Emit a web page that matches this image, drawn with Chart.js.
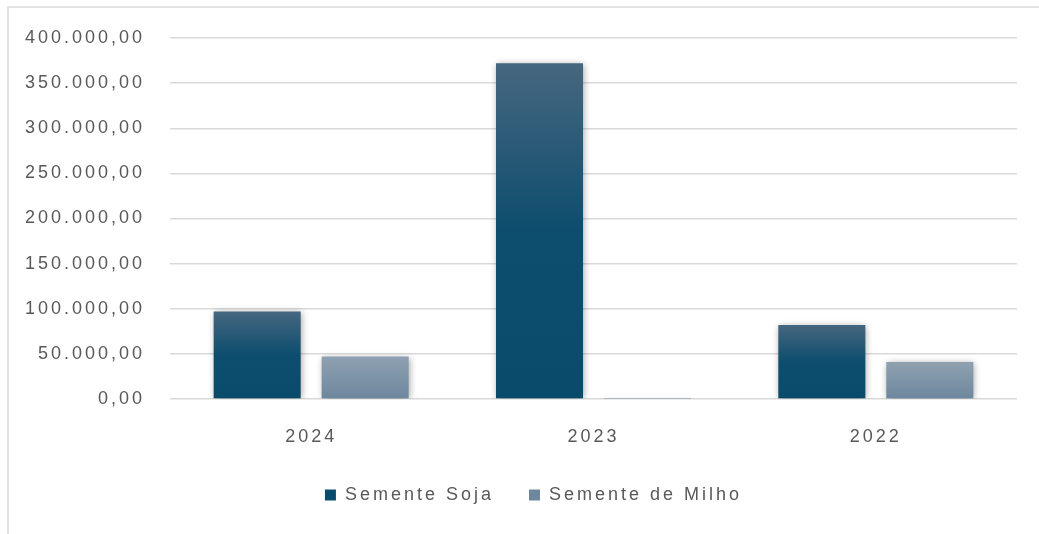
<!DOCTYPE html>
<html lang="pt-BR">
<head>
<meta charset="utf-8">
<title>Semente Soja e Semente de Milho</title>
<script src="https://cdn.jsdelivr.net/npm/chart.js@4.4.1/dist/chart.umd.min.js"></script>
<style>
  html, body { margin: 0; padding: 0; background: #fff; overflow: hidden; }
  body { width: 1039px; height: 534px; position: relative; }
  #frame {
    position: absolute; left: 7px; top: 6px; width: 1100px; height: 600px;
    border-left: 2px solid #e2e2e2; border-top: 2px solid #e2e2e2; box-sizing: border-box;
  }
  #wrap { position: absolute; left: 0; top: 0; width: 1039px; height: 514px; }
</style>
</head>
<body>
<div id="frame"></div>
<div id="wrap"><canvas id="chart"></canvas></div>
<script>
// Anos exibidos no eixo X
const categories = ['2024', '2023', '2022'];
// Valores por ano (R$)
const semSoja = [97000, 372000, 82000];
const semMilho = [47000, 300, 41000];
// Eixo Y
const yMin = 0;
const yMax = 400000;
const yStep = 50000;

const TEXT = '#595959';
const GRID = '#d9d9d9';
const FONT = '"Liberation Sans", Arial, sans-serif';
const SPACING = '3px';
const LEGEND_INSET = 50; // recuo à esquerda da faixa da legenda

// Formato brasileiro: 400.000,00
function fmtBR(v) {
  const [i, d] = Number(v).toFixed(2).split('.');
  return i.replace(/\B(?=(\d{3})+(?!\d))/g, '.') + ',' + d;
}

// Gradiente vertical por barra, do topo até a base
function barGradient(stops, solid) {
  return (c) => {
    if (c.type !== 'data') return solid;
    const chart = c.chart;
    const y = chart.scales.y;
    if (!y || !chart.chartArea) return solid;
    const top = y.getPixelForValue(c.parsed.y);
    const base = y.getPixelForValue(0);
    if (!isFinite(top) || !isFinite(base) || Math.abs(base - top) < 1) return solid;
    const g = chart.ctx.createLinearGradient(0, top, 0, base);
    stops.forEach(([p, col]) => g.addColorStop(p, col));
    return g;
  };
}

// Espaçamento entre letras dos textos do canvas
const spacingPlugin = {
  id: 'spacing',
  beforeLayout(chart) { chart.ctx.letterSpacing = SPACING; },
  beforeDraw(chart) { chart.ctx.letterSpacing = SPACING; }
};

// Centraliza a legenda numa faixa recuada à esquerda
const legendShiftPlugin = {
  id: 'legendShift',
  afterUpdate(chart) {
    const lg = chart.legend;
    if (lg && !lg._shifted) {
      lg.left += LEGEND_INSET;
      lg.width = lg.right - lg.left;
      lg._shifted = true;
      lg.adjustHitBoxes();
    }
  },
  beforeUpdate(chart) { if (chart.legend) chart.legend._shifted = false; }
};

// Sombra suave atrás das barras
const shadowPlugin = {
  id: 'barShadow',
  beforeDatasetsDraw(chart) {
    const c = chart.ctx;
    c.save();
    c.shadowColor = 'rgba(0,0,0,0.38)';
    c.shadowBlur = 7;
    c.shadowOffsetX = 1;
    c.shadowOffsetY = 1;
  },
  afterDatasetsDraw(chart) { chart.ctx.restore(); }
};

new Chart(document.getElementById('chart'), {
  type: 'bar',
  data: {
    labels: categories,
    datasets: [
      {
        label: 'Semente Soja',
        data: semSoja,
        backgroundColor: barGradient([[0, '#46677f'], [0.5, '#0d4d6e'], [1, '#0a4a6a']], '#0e4b6b'),
        borderWidth: 0,
        categoryPercentage: 0.765,
        barPercentage: 0.806
      },
      {
        label: 'Semente de Milho',
        data: semMilho,
        backgroundColor: barGradient([[0, '#8fa1b1'], [1, '#6d879e']], '#7e94a7'),
        borderWidth: 0,
        categoryPercentage: 0.765,
        barPercentage: 0.806
      }
    ]
  },
  options: {
    responsive: true,
    maintainAspectRatio: false,
    animation: false,
    devicePixelRatio: 1,
    layout: { padding: { left: 0, right: 22, top: 38, bottom: 0 } },
    plugins: {
      tooltip: { enabled: false },
      legend: {
        position: 'bottom',
        labels: {
          color: TEXT,
          font: { family: FONT, size: 18 },
          boxWidth: 11,
          boxHeight: 11,
          padding: 35
        }
      }
    },
    scales: {
      x: {
        grid: { display: false, drawTicks: false },
        border: { display: false },
        ticks: { color: TEXT, font: { family: FONT, size: 18 }, padding: 27 },
        afterFit(s) { s.height = 52; }
      },
      y: {
        min: yMin,
        max: yMax,
        ticks: {
          stepSize: yStep,
          color: TEXT,
          font: { family: FONT, size: 18 },
          padding: 25,
          callback: (v) => fmtBR(v)
        },
        grid: { color: GRID, lineWidth: 1.5, drawTicks: false },
        border: { display: false },
        afterFit(s) { s.width = 170; }
      }
    }
  },
  plugins: [spacingPlugin, legendShiftPlugin, shadowPlugin]
});
</script>
</body>
</html>
